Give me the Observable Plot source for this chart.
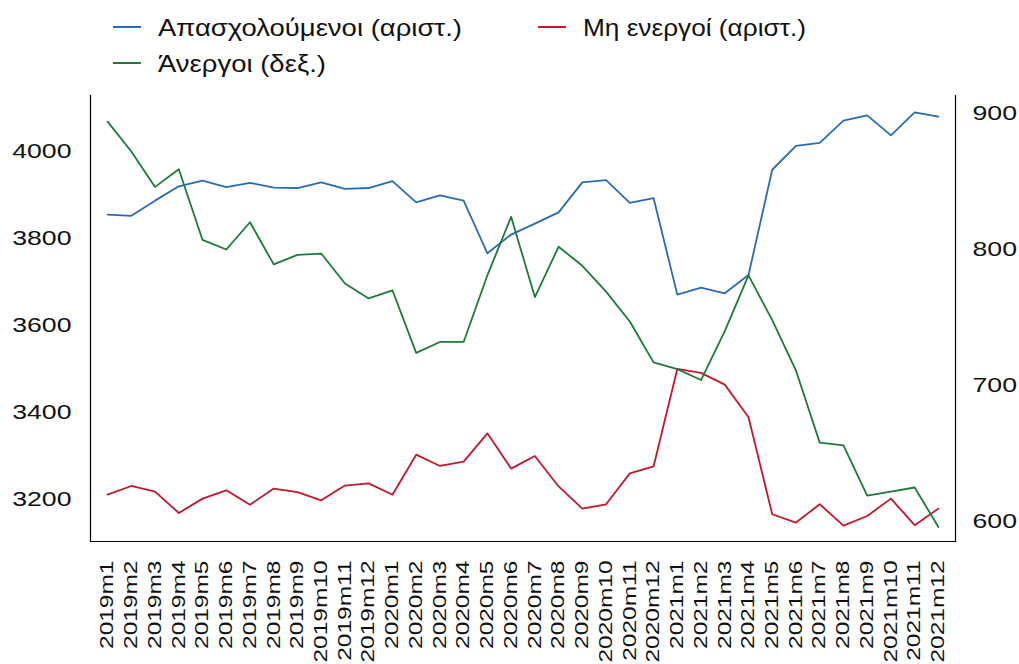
<!DOCTYPE html>
<html>
<head>
<meta charset="utf-8">
<script src="https://cdn.jsdelivr.net/npm/d3@7"></script>
<script src="https://cdn.jsdelivr.net/npm/@observablehq/plot@0.6"></script>
<style>
  html, body { margin: 0; padding: 0; background: #fff; }
  #chart { width: 1019px; font-family: "Liberation Sans", Arial, sans-serif; }
  #legend { display: block; }
</style>
</head>
<body>
<div id="chart"></div>
<script>
const months = ["2019m1","2019m2","2019m3","2019m4","2019m5","2019m6","2019m7","2019m8","2019m9","2019m10","2019m11","2019m12",
  "2020m1","2020m2","2020m3","2020m4","2020m5","2020m6","2020m7","2020m8","2020m9","2020m10","2020m11","2020m12",
  "2021m1","2021m2","2021m3","2021m4","2021m5","2021m6","2021m7","2021m8","2021m9","2021m10","2021m11","2021m12"];
const employed = [3855,3852,3887,3920,3933,3918,3928,3917,3916,3929,3914,3916,3932,3883,3899,3887,3766,3809,3834,3860,3929,3934,3882,3893,3671,3687,3674,3716,3958,4013,4020,4071,4083,4037,4090,4080];
const inactive = [3211,3231,3218,3169,3202,3221,3188,3225,3217,3198,3232,3237,3211,3303,3277,3287,3352,3271,3300,3230,3179,3189,3260,3276,3500,3491,3464,3389,3166,3147,3189,3140,3162,3202,3141,3179];
const unemployed = [894,872,846,859,807,800,820,789,796,797,775,764,770,724,732,732,781,824,765,802,788,769,747,717,712,704,740,781,748,711,658,656,619,622,625,596];
const leftTicks = [3200,3400,3600,3800,4000];
const rightTicks = [600,700,800,900];
const seriesNames = ["Απασχολούμενοι (αριστ.)", "Μη ενεργοί (αριστ.)", "Άνεργοι (δεξ.)"];
const colors = ["#2a6cb4", "#c0182f", "#1d7a3a"];

const leftDomain = [3103.4, 4128.7];
const rightDomain = [585.3, 913.2];
const toLeft = d3.scaleLinear().domain(rightDomain).range(leftDomain);

const rows = [];
months.forEach((m, i) => {
  rows.push({m, s: seriesNames[0], v: employed[i]});
  rows.push({m, s: seriesNames[1], v: inactive[i]});
  rows.push({m, s: seriesNames[2], v: toLeft(unemployed[i])});
});

const FONT = '"Liberation Sans", Arial, sans-serif';
const chart = document.getElementById("chart");

// Legend
const legendW = 1019, legendH = 95;
const lg = d3.create("svg").attr("id","legend").attr("width", legendW).attr("height", legendH)
  .style("font-family", FONT);
const legendItems = [
  {name: seriesNames[0], color: colors[0], x: 113, y: 27, w: 304},
  {name: seriesNames[1], color: colors[1], x: 538, y: 27, w: 223},
  {name: seriesNames[2], color: colors[2], x: 113, y: 63, w: 168}
];
legendItems.forEach(it => {
  lg.append("line").attr("x1", it.x).attr("x2", it.x + 28).attr("y1", it.y).attr("y2", it.y)
    .attr("stroke", it.color).attr("stroke-width", 2);
  lg.append("text").attr("x", it.x + 45).attr("y", it.y + 9).attr("font-size", 24.5)
    .attr("fill", "#111").attr("textLength", it.w).attr("lengthAdjust", "spacingAndGlyphs").text(it.name);
});
chart.appendChild(lg.node());

const plot = Plot.plot({
  width: 1019,
  height: 569,
  marginLeft: 90,
  marginRight: 64,
  marginTop: 0,
  marginBottom: 123,
  style: {fontFamily: FONT, background: "#fff", color: "#111"},
  x: {type: "point", domain: months, padding: 0.72, round: false, label: null},
  y: {domain: leftDomain, label: null},
  color: {domain: seriesNames, range: colors},
  marks: [
    Plot.frame({anchor: "left", stroke: "#000", strokeWidth: 1.2}),
    Plot.frame({anchor: "right", stroke: "#000", strokeWidth: 1.2}),
    Plot.frame({anchor: "bottom", stroke: "#000", strokeWidth: 1.2}),
    Plot.axisY({anchor: "left", ticks: leftTicks, tickFormat: v => String(v), tickSize: 0, tickPadding: 19, fontSize: 21, label: null}),
    Plot.axisY({anchor: "right", ticks: rightTicks.map(t => toLeft(t)), tickFormat: v => String(Math.round(toLeft.invert(v))), tickSize: 0, tickPadding: 17, fontSize: 21, label: null}),
    Plot.axisX({tickRotate: -90, tickSize: 0, tickPadding: 19, fontSize: 18, label: null}),
    Plot.line(rows, {x: "m", y: "v", z: "s", stroke: "s", strokeWidth: 1.8})
  ]
});
chart.appendChild(plot);

// widen tick label glyphs to match the reference's broad letterforms
plot.querySelectorAll('g[aria-label="x-axis tick label"] text').forEach(t => {
  const L = t.getComputedTextLength();
  t.setAttribute("textLength", L * 1.36);
  t.setAttribute("lengthAdjust", "spacingAndGlyphs");
});
plot.querySelectorAll('g[aria-label="y-axis tick label"] text').forEach(t => {
  const L = t.getComputedTextLength();
  t.setAttribute("textLength", L * 1.27);
  t.setAttribute("lengthAdjust", "spacingAndGlyphs");
});
</script>
</body>
</html>
